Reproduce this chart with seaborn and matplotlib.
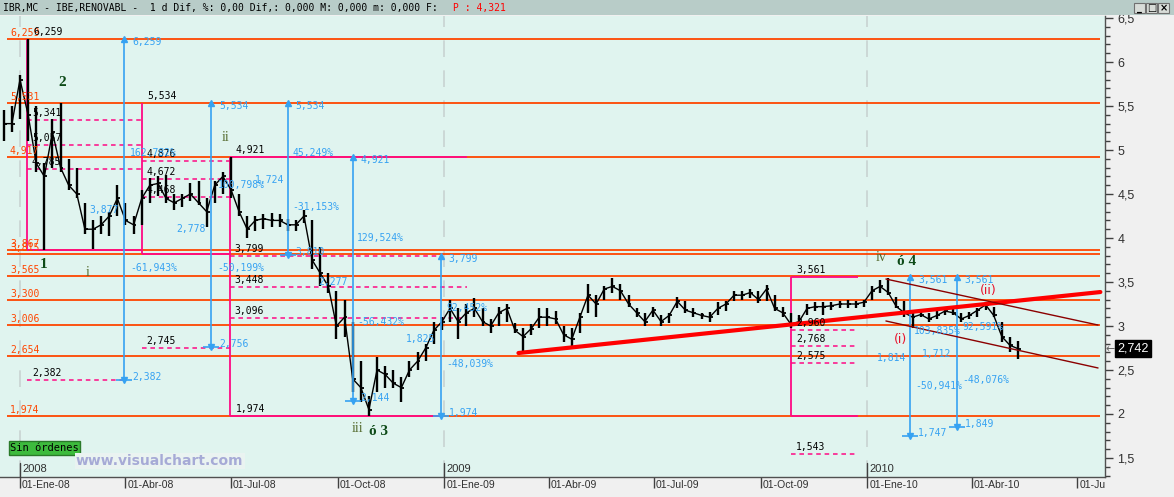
import pandas as pd
import matplotlib
matplotlib.use("Agg")
import matplotlib.pyplot as plt
import matplotlib.dates as mdates
from matplotlib.ticker import MultipleLocator, FuncFormatter
from matplotlib.patches import Rectangle
from matplotlib.transforms import Bbox, TransformedBbox
import seaborn as sns

sns.set_style("white")
plt.rcParams['font.family'] = ['DejaVu Sans']

# weekly bars (IBR.MC)
week_start = "2007-12-18"
highs = [5.45, 5.50, 5.85, 6.259, 5.50, 4.85, 5.35, 5.534, 4.90, 4.80,
         4.40, 4.20, 4.25, 4.30, 4.60, 4.40, 4.25, 4.55, 4.68, 4.70,
         4.72, 4.50, 4.50, 4.62, 4.65, 4.45, 4.65, 4.75, 4.921, 4.50,
         4.25, 4.25, 4.27, 4.28, 4.27, 4.22, 4.20, 4.32, 4.20, 3.90,
         3.60, 3.40, 3.30, 3.05, 2.60, 2.20, 2.65, 2.55, 2.50, 2.42,
         2.60, 2.70, 2.80, 3.05, 3.10, 3.30, 3.20, 3.25, 3.32, 3.20,
         3.08, 3.22, 3.25, 3.03, 2.98, 3.02, 3.20, 3.20, 3.17, 3.00,
         2.98, 3.15, 3.48, 3.35, 3.45, 3.54, 3.48, 3.35, 3.20, 3.15,
         3.22, 3.12, 3.15, 3.33, 3.28, 3.20, 3.15, 3.16, 3.27, 3.28,
         3.40, 3.40, 3.42, 3.40, 3.47, 3.35, 3.22, 3.15, 3.12, 3.25,
         3.27, 3.27, 3.27, 3.28, 3.30, 3.28, 3.30, 3.45, 3.52, 3.55,
         3.33, 3.28, 3.15, 3.17, 3.15, 3.17, 3.20, 3.20, 3.15, 3.16,
         3.20, 3.27, 3.22, 3.05, 2.88, 2.83]
lows = [5.10, 5.20, 5.35, 5.10, 4.75, 3.867, 4.80, 4.75, 4.55, 4.45,
        4.05, 3.877, 4.05, 4.02, 4.25, 4.15, 4.05, 4.15, 4.40, 4.48,
        4.40, 4.32, 4.35, 4.42, 4.38, 4.12, 4.40, 4.50, 4.45, 4.25,
        4.00, 4.08, 4.10, 4.12, 4.12, 4.08, 4.08, 4.17, 3.65, 3.45,
        3.38, 2.85, 2.88, 2.25, 2.14, 1.974, 2.25, 2.30, 2.30, 2.14,
        2.42, 2.50, 2.60, 2.80, 2.95, 3.05, 2.85, 3.00, 3.10, 3.00,
        2.92, 3.00, 3.05, 2.92, 2.70, 2.90, 2.98, 3.00, 3.02, 2.82,
        2.75, 2.92, 3.15, 3.10, 3.30, 3.38, 3.30, 3.22, 3.10, 3.00,
        3.10, 3.00, 3.03, 3.20, 3.15, 3.10, 3.08, 3.05, 3.13, 3.17,
        3.28, 3.30, 3.32, 3.26, 3.28, 3.17, 3.10, 2.98, 3.00, 3.12,
        3.17, 3.12, 3.18, 3.20, 3.20, 3.20, 3.22, 3.30, 3.38, 3.35,
        3.20, 3.10, 2.98, 3.10, 3.04, 3.08, 3.12, 3.12, 3.05, 3.08,
        3.10, 3.18, 3.10, 2.82, 2.70, 2.62]
closes = [5.30, 5.30, 5.80, 5.40, 4.85, 4.70, 5.20, 4.80, 4.60, 4.50,
          4.10, 4.10, 4.15, 4.25, 4.45, 4.20, 4.15, 4.45, 4.60, 4.62,
          4.45, 4.40, 4.45, 4.50, 4.40, 4.30, 4.60, 4.70, 4.55, 4.30,
          4.10, 4.20, 4.22, 4.20, 4.20, 4.15, 4.15, 4.25, 3.75, 3.60,
          3.45, 3.00, 3.10, 2.40, 2.30, 2.05, 2.50, 2.45, 2.35, 2.30,
          2.50, 2.60, 2.75, 2.95, 3.05, 3.20, 3.05, 3.15, 3.20, 3.05,
          3.00, 3.15, 3.20, 2.95, 2.88, 2.97, 3.10, 3.10, 3.08, 2.90,
          2.85, 3.10, 3.35, 3.25, 3.42, 3.45, 3.40, 3.25, 3.15, 3.05,
          3.18, 3.05, 3.12, 3.28, 3.18, 3.15, 3.12, 3.10, 3.20, 3.25,
          3.35, 3.35, 3.38, 3.30, 3.42, 3.20, 3.15, 3.02, 3.05, 3.20,
          3.22, 3.22, 3.23, 3.25, 3.25, 3.25, 3.27, 3.40, 3.45, 3.38,
          3.22, 3.15, 3.10, 3.13, 3.08, 3.12, 3.17, 3.15, 3.08, 3.12,
          3.18, 3.24, 3.12, 2.88, 2.78, 2.742]
weeks = pd.date_range(week_start, periods=len(closes), freq="7D")
last_price = 2.742

# orange support / resistance levels
levels = [6.259, 5.531, 4.917, 3.867, 3.815, 3.565, 3.300, 3.006, 2.654, 1.974]
level_span = ["2007-12-21", "2010-07-21"]

# magenta boxes
box_vert = [("2008-01-07", 6.259, 3.867), ("2008-04-15", 5.534, 3.815),
            ("2008-06-30", 4.921, 1.974), ("2009-10-27", 3.561, 1.974)]
box_horiz = [(3.867, "2008-01-07", "2008-04-15"), (3.815, "2008-04-15", "2008-06-30"),
             (4.921, "2008-06-30", "2009-01-21"), (1.974, "2008-06-30", "2008-12-28"),
             (3.561, "2009-10-27", "2009-12-24"), (1.974, "2009-10-27", "2009-12-24")]

# dashed retracement levels (magenta) with their black labels
dash_levels = [5.341, 5.057, 4.785, 2.382, 4.876, 4.672, 4.468, 2.745,
               3.799, 3.448, 3.096, 2.960, 2.768, 2.575, 1.543]
dash_from = ["2008-01-07"] * 4 + ["2008-04-15"] * 4 + ["2008-06-30"] * 3 + ["2009-10-27"] * 4
dash_to = ["2008-04-15"] * 3 + ["2008-03-31"] + ["2008-06-30"] * 4 + \
          ["2008-12-28", "2009-01-21", "2009-01-21"] + ["2009-12-24"] * 4
extra_black = [(6.259, "2008-01-07"), (5.534, "2008-04-15"), (4.921, "2008-06-30"),
               (1.974, "2008-06-30"), (3.561, "2009-10-27")]

# blue measuring arrows
arrow_dates = ["2008-03-31", "2008-06-14", "2008-08-19", "2008-10-14", "2008-12-29",
               "2010-02-07", "2010-03-19"]
arrow_top = [6.259, 5.534, 5.534, 4.921, 3.799, 3.561, 3.561]
arrow_bot = [2.382, 2.756, 3.810, 2.144, 1.974, 1.747, 1.849]
blue_texts = [("-61,943%", "2008-04-05", 3.66), ("-50,199%", "2008-06-19", 3.66),
              ("-31,153%", "2008-08-23", 4.35), ("45,249%", "2008-08-23", 4.966),
              ("-56,432%", "2008-10-18", 3.045), ("129,524%", "2008-10-18", 4.00),
              ("-48,039%", "2009-01-03", 2.568), ("92,452%", "2009-01-03", 3.205),
              ("1,825", "2008-11-29", 2.852), ("-50,941%", "2010-02-11", 2.318),
              ("103,835%", "2010-02-10", 2.943), ("-48,076%", "2010-03-24", 2.386),
              ("92,591%", "2010-03-24", 2.99), ("3,877", "2008-03-01", 4.318),
              ("2,778", "2008-05-15", 4.10), ("162,782%", "2008-04-05", 4.966),
              ("100,798%", "2008-06-20", 4.60), ("1,724", "2008-07-22", 4.66),
              ("2,277", "2008-09-14", 3.50), ("1,814", "2010-01-09", 2.636),
              ("1,712", "2010-02-17", 2.68)]

# trend lines
red_trend = (["2009-03-06", "2010-07-21"], [2.693, 3.386])
chan_upper = (["2010-01-17", "2010-07-19"], [3.534, 3.011])
chan_lower = (["2010-01-17", "2010-07-19"], [3.057, 2.523])

# wave counts
waves_big = [("2", "2008-02-06", 5.77), ("1", "2008-01-21", 3.70),
             ("ó 3", "2008-11-05", 1.80), ("ó 4", "2010-02-04", 3.73)]
waves_small = [("i", "2008-02-28", 3.61), ("ii", "2008-06-26", 5.14),
               ("iii", "2008-10-18", 1.84), ("iv", "2010-01-13", 3.78)]
waves_red = [("(i)", "2010-01-30", 2.85), ("(ii)", "2010-04-15", 3.40)]

quarter_ticks = ["2008-01-01", "2008-04-01", "2008-07-01", "2008-10-01", "2009-01-01",
                 "2009-04-01", "2009-07-01", "2009-10-01", "2010-01-01", "2010-04-01",
                 "2010-07-01"]
quarter_labels = ["01-Ene-08", "01-Abr-08", "01-Jul-08", "01-Oct-08", "01-Ene-09",
                  "01-Abr-09", "01-Jul-09", "01-Oct-09", "01-Ene-10", "01-Abr-10",
                  "01-Jul-10"]
years = ["2008", "2009", "2010"]

ORANGE = "#ff4500"
MAGENTA = "#ff0a84"
BLUE = "#36a2f2"
MONO = "DejaVu Sans Mono"
T = pd.Timestamp


def D(s):
    return mdates.date2num(T(s))


def fmt(v):
    return f"{v:.3f}".replace(".", ",")


W, H = 1174, 497
fig = plt.figure(figsize=(W / 100, H / 100), dpi=100, facecolor="#f0f0f0")
ax = fig.add_axes([0, 20 / H, 1105 / W, 461 / H])
ax.set_facecolor("#e0f4ef")
ax.set_xlim(T("2007-12-14 18:00"), T("2010-07-25"))
ax.set_ylim(1.284, 6.523)

for y in years:
    ax.axvline(T(y + "-01-01"), color="#c9d3d1", lw=1.2, ls=(0, (10, 8)), zorder=0.5)

# orange levels
for lev in levels:
    ax.hlines(lev, T(level_span[0]), T(level_span[1]), color=ORANGE, lw=1.3, zorder=1)
    ax.annotate(fmt(lev), (0.009, lev), xycoords=ax.get_yaxis_transform(), xytext=(0, 1),
                textcoords="offset pixels", va="bottom", ha="left", color=ORANGE,
                family=MONO, fontsize=7, zorder=6)

# magenta dashed retracements
for lev, a, b in zip(dash_levels, dash_from, dash_to):
    ax.hlines(lev, T(a), T(b), color=MAGENTA, lw=1.1, ls=(0, (3, 2.5)), zorder=1.5)
    ax.annotate(fmt(lev), (D(a), lev), xytext=(5, 2), textcoords="offset pixels",
                va="bottom", ha="left", color="black", family=MONO, fontsize=7, zorder=6)
for lev, a in extra_black:
    ax.annotate(fmt(lev), (D(a), lev), xytext=(6, 2), textcoords="offset pixels",
                va="bottom", ha="left", color="black", family=MONO, fontsize=7, zorder=6)

# magenta boxes
for d, top, bot in box_vert:
    ax.vlines(T(d), bot, top, color=MAGENTA, lw=1.3, zorder=2)
for lev, a, b in box_horiz:
    ax.hlines(lev, T(a), T(b), color=MAGENTA, lw=1.3, zorder=2)

# price bars
ax.vlines(weeks, lows, highs, color="black", lw=1.7, zorder=3)
ax.hlines(closes, weeks, weeks + pd.Timedelta(days=2.5), color="black", lw=1.3, zorder=3)
sns.lineplot(x=weeks, y=closes, color="black", lw=1.0, ax=ax, zorder=3)

# trend lines
sns.lineplot(x=pd.to_datetime(red_trend[0]), y=red_trend[1], color="#ff0000", lw=3, ax=ax, zorder=5)
for ch in (chan_upper, chan_lower):
    sns.lineplot(x=pd.to_datetime(ch[0]), y=ch[1], color="#8b0000", lw=1, ax=ax, zorder=5)

# blue arrows
for d, top, bot in zip(arrow_dates, arrow_top, arrow_bot):
    dn = D(d)
    ax.vlines(T(d), bot, top, color=BLUE, lw=1.2, zorder=4)
    ax.plot([T(d)], [top], marker="^", ms=4, color=BLUE, zorder=4)
    ax.plot([T(d)], [bot], marker="v", ms=4, color=BLUE, zorder=4)
    ax.plot([T(d)], [bot], marker="_", ms=11, mew=1.2, color=BLUE, zorder=4)
    ax.annotate(fmt(top), (dn, top), xytext=(8, -3), textcoords="offset pixels", va="center",
                ha="left", color=BLUE, family=MONO, fontsize=7, zorder=6)
    ax.annotate(fmt(bot), (dn, bot), xytext=(8, 3), textcoords="offset pixels", va="center",
                ha="left", color=BLUE, family=MONO, fontsize=7, zorder=6)
for s, d, v in blue_texts:
    ax.text(D(d), v, s, va="center", ha="left", color=BLUE, family=MONO, fontsize=7, zorder=6)

# wave labels
for s, d, v in waves_big:
    ax.text(D(d), v, s, va="center", ha="center", color="#0d4a17", family="Liberation Serif",
            fontweight="bold", fontsize=11, zorder=6)
for s, d, v in waves_small:
    ax.text(D(d), v, s, va="center", ha="center", color="#556b2f", family="Liberation Serif",
            fontsize=10, zorder=6)
for s, d, v in waves_red:
    ax.text(D(d), v, s, va="center", ha="center", color="#e8102a", fontsize=9, zorder=6)

# axes styling
for side in ("top", "left"):
    ax.spines[side].set_visible(False)
for side in ("bottom", "right"):
    ax.spines[side].set_visible(True)
    ax.spines[side].set_color("#505050")
    ax.spines[side].set_linewidth(1)
ax.yaxis.tick_right()
ax.yaxis.set_major_locator(MultipleLocator(0.5))
ax.yaxis.set_minor_locator(MultipleLocator(0.1))
ax.yaxis.set_major_formatter(FuncFormatter(lambda v, p: f"{v:g}".replace(".", ",")))
ax.tick_params(axis="y", which="major", right=True, left=False, length=6, width=1,
               color="#404040", labelsize=9, labelcolor="#303030", pad=3)
ax.tick_params(axis="y", which="minor", right=True, left=False, length=3.5, width=1,
               color="#404040")
for lab in ax.get_yticklabels():
    lab.set_family("Liberation Sans")
ax.set_xticks([T(q) for q in quarter_ticks])
ax.set_xticklabels([])
ax.tick_params(axis="x", which="major", bottom=True, length=8, width=1, color="#404040")
ax.set_xlabel("")
ax.set_ylabel("")

clip = TransformedBbox(Bbox([[0, 0], [1105 / W, 1]]), fig.transFigure)
xt = ax.get_xaxis_transform()
for q, lab in zip(quarter_ticks, quarter_labels):
    t = ax.annotate(lab, (D(q), 0), xycoords=xt, xytext=(2, -3), textcoords="offset pixels",
                    va="top", ha="left", family="Liberation Sans", fontsize=7.5,
                    color="#303030", annotation_clip=False)
    t.set_clip_box(clip)
    t.set_clip_on(True)
for y in years:
    dn = D(y + "-01-01")
    ax.plot([dn, dn], [0, 0.03], transform=xt, color="#404040", lw=1, clip_on=False, zorder=6)
    ax.annotate(y, (dn, 0), xycoords=xt, xytext=(2, 3), textcoords="offset pixels",
                va="bottom", ha="left", family="Liberation Sans", fontsize=8, color="#303030")

# last price marker on the scale
ax.annotate(fmt(last_price), (1, last_price), xycoords=ax.get_yaxis_transform(),
            xytext=(12, 0), textcoords="offset pixels", va="center", ha="left",
            color="white", fontsize=9, family="Liberation Sans",
            bbox=dict(boxstyle="square,pad=0.2", fc="black", ec="black"), annotation_clip=False)
ax.annotate("←", (1, last_price), xycoords=ax.get_yaxis_transform(), xytext=(1, 0),
            textcoords="offset pixels", va="center", ha="left", color="#606060", fontsize=8,
            annotation_clip=False)

# header bar
fig.patches.append(Rectangle((0, 1 - 15 / H), 1, 15 / H, transform=fig.transFigure,
                             facecolor="#b8ccc8", edgecolor="none", zorder=1))
fig.text(3 / W, 1 - 7.5 / H,
         "IBR,MC - IBE,RENOVABL -  1 d Dif, %: 0,00 Dif,: 0,000 M: 0,000 m: 0,000 F:",
         va="center", ha="left", family=MONO, fontsize=7, color="black", zorder=2)
fig.text(453 / W, 1 - 7.5 / H, "P : 4,321", va="center", ha="left", family=MONO,
         fontsize=7, color="#ff0000", zorder=2)
for i, g in enumerate(["_", "□", "×"]):
    x0 = 1134 + 12 * i
    fig.patches.append(Rectangle((x0 / W, 1 - 13 / H), 11 / W, 10 / H, transform=fig.transFigure,
                                 facecolor="#d8dcd8", edgecolor="#707070", lw=0.8, zorder=2))
    fig.text((x0 + 5.5) / W, 1 - 8 / H, g, va="center", ha="center", fontsize=7,
             fontweight="bold", color="black", zorder=3)

# order status button and watermark
fig.patches.append(Rectangle((9 / W, 1 - 455 / H), 71 / W, 14 / H, transform=fig.transFigure,
                             facecolor="#3dbb3d", edgecolor="#2a7a2a", lw=1, zorder=2))
fig.text(44.5 / W, 1 - 448 / H, "Sin órdenes", va="center", ha="center", family=MONO,
         fontsize=7.5, color="black", zorder=3)
fig.text(76 / W, 1 - 461 / H, "www.visualchart.com", va="center", ha="left", fontsize=10,
         fontweight="bold", color="#a6aad6", zorder=3,
         bbox=dict(boxstyle="square,pad=0.1", fc="#eaf3f1", ec="none"))

fig.savefig("out.png", dpi=100, facecolor=fig.get_facecolor())
